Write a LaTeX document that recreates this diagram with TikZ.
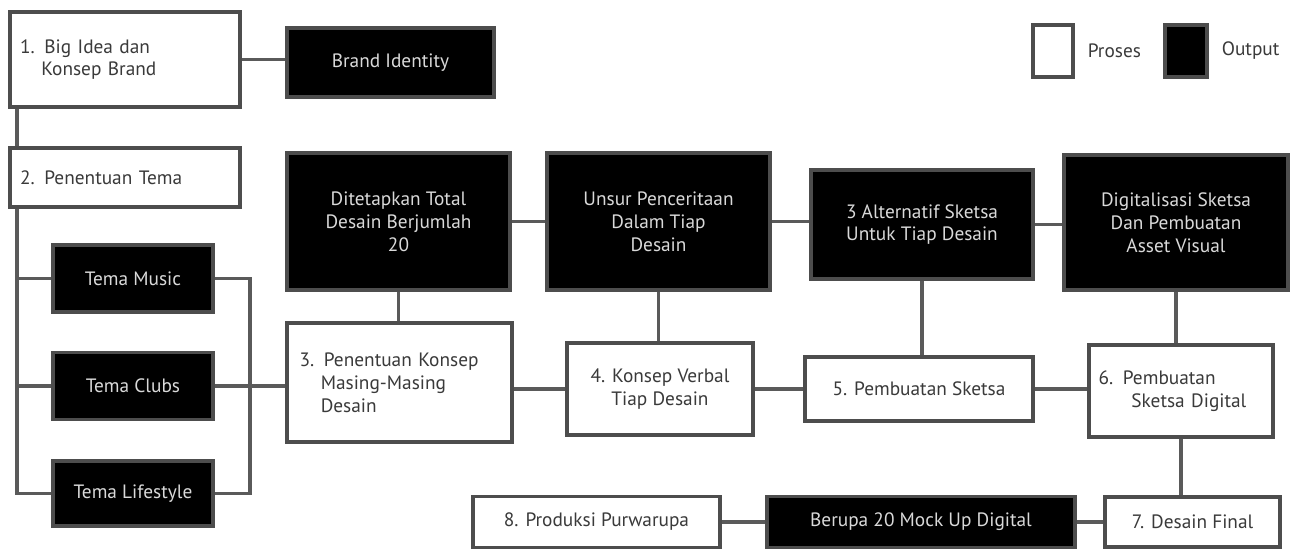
\documentclass[tikz,border=0pt]{standalone}
\usepackage{fontspec}
\setmainfont{PT Sans}
\definecolor{BoxEdge}{HTML}{4D4D4D}
\definecolor{LinkGray}{HTML}{5A5A5A}
\definecolor{TextDark}{HTML}{3A3A3A}
\usetikzlibrary{positioning, calc, backgrounds}

\begin{document}
\begin{tikzpicture}[
  x=0.02cm, y=-0.02cm,
  proses/.style={draw=BoxEdge, line width=1.8pt, fill=white, text=TextDark, font=\fontsize{11}{13}\selectfont, inner sep=2pt},
  output/.style={draw=BoxEdge, line width=1.8pt, fill=black, text=white!85!black, font=\fontsize{11}{13}\selectfont, align=center, inner sep=2pt},
  link/.style={draw=LinkGray, line width=1.8pt},
]
  \useasboundingbox (0,0) rectangle (1290,558);
  % Legend
  \node[proses, minimum width=0.8cm, minimum height=1.04cm] (legP) at (1053,51) {};
  \node[font=\fontsize{11}{13}\selectfont, text=TextDark, right=4pt of legP] (legPt) {Proses};
  \node[output, minimum width=0.84cm, minimum height=1.04cm] (legO) at (1186,51) {};
  \node[font=\fontsize{11}{13}\selectfont, text=TextDark, right=4pt of legO] (legOt) {Output};
  % Proses
  \node[proses, minimum width=4.6cm, minimum height=1.9cm, text width=4.2cm, align=left] (P1) at (125,59.5) {1. Big Idea dan\\\hspace*{1.1em}Konsep Brand};
  \node[proses, minimum width=4.6cm, minimum height=1.18cm, text width=4.2cm, align=left] (P2) at (125,177.5) {2. Penentuan Tema};
  \node[proses, minimum width=4.5cm, minimum height=2.38cm, text width=4.0cm, align=left] (P3) at (399.5,382.5) {3. Penentuan Konsep\\\hspace*{1.1em}Masing-Masing\\\hspace*{1.1em}Desain};
  \node[proses, minimum width=3.72cm, minimum height=1.84cm, align=center] (P4) at (660,389) {4. Konsep Verbal\\Tiap Desain};
  \node[proses, minimum width=4.56cm, minimum height=1.28cm] (P5) at (919,389) {5. Pembuatan Sketsa};
  \node[proses, minimum width=3.68cm, minimum height=1.84cm, text width=3.3cm, align=left] (P6) at (1181,391) {6. Pembuatan\\\hspace*{1.7em}Sketsa Digital};
  \node[proses, minimum width=3.5cm, minimum height=1.0cm] (P7) at (1192.5,522) {7. Desain Final};
  \node[proses, minimum width=4.94cm, minimum height=1.02cm] (P8) at (596.5,522) {8. Produksi Purwarupa};
  % Output
  \node[output, minimum width=4.14cm, minimum height=1.38cm] (BI) at (390.5,62.5) {Brand Identity};
  \node[output, minimum width=3.2cm, minimum height=1.34cm] (TM) at (133,278.5) {Tema Music};
  \node[output, minimum width=3.2cm, minimum height=1.34cm] (TC) at (133,386) {Tema Clubs};
  \node[output, minimum width=3.2cm, minimum height=1.3cm] (TL) at (133,493.5) {Tema Lifestyle};
  \node[output, minimum width=4.46cm, minimum height=2.74cm] (O20) at (398.5,221.5) {Ditetapkan Total\\Desain Berjumlah\\20};
  \node[output, minimum width=4.46cm, minimum height=2.74cm] (Unsur) at (658.5,221.5) {Unsur Penceritaan\\Dalam Tiap\\Desain};
  \node[output, minimum width=4.44cm, minimum height=2.18cm] (Alt) at (922,224.5) {3 Alternatif Sketsa\\Untuk Tiap Desain};
  \node[output, minimum width=4.48cm, minimum height=2.7cm] (Digi) at (1176,222.5) {Digitalisasi Sketsa\\Dan Pembuatan\\Asset Visual};
  \node[output, minimum width=6.16cm, minimum height=1.02cm] (Mock) at (921,522) {Berupa 20 Mock Up Digital};
  % Tema branches
  \coordinate (trunk) at (17,0);
  \coordinate (join) at (250,386);
  \begin{scope}[on background layer]
  \draw[link] (trunk |- P1.south) |- (TL.west);
  \draw[link] (trunk |- TM) -- (TM.west);
  \draw[link] (trunk |- TC) -- (TC.west);
  \draw[link] (TM.east) -| (join);
  \draw[link] (TL.east) -| (join);
  \draw[link] (TC.east) -- (TC.east -| P3.west);
  % Links
  \draw[link] (P1.east) -- (P1.east -| BI.west);
  \draw[link] (O20.east) -- (O20.east -| Unsur.west);
  \draw[link] (Unsur.east) -- (Unsur.east -| Alt.west);
  \draw[link] (Alt.east) -- (Alt.east -| Digi.west);
  \draw[link] (O20.south) -- (O20.south |- P3.north);
  \draw[link] (Unsur.south) -- (Unsur.south |- P4.north);
  \draw[link] (Alt.south) -- (Alt.south |- P5.north);
  \draw[link] (Digi.south) -- (Digi.south |- P6.north);
  \draw[link] (P4.west -| P3.east) -- (P4.west);
  \draw[link] (P4.east) -- (P5.west);
  \draw[link] (P5.east) -- (P5.east -| P6.west);
  \draw[link] (P6.south) -- (P6.south |- P7.north);
  \draw[link] (P7.west) -- (Mock.east);
  \draw[link] (Mock.west) -- (P8.east);
  \end{scope}
\end{tikzpicture}
\end{document}
